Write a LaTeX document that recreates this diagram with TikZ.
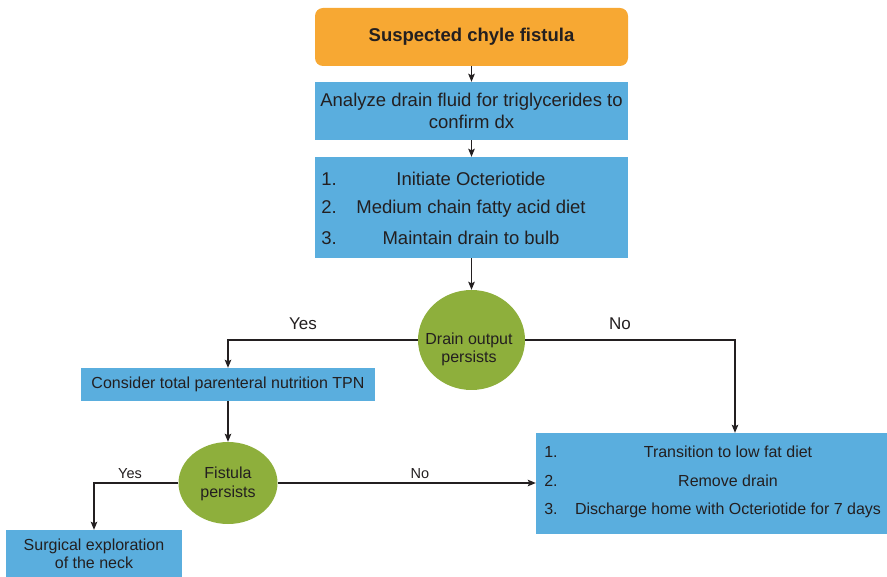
\documentclass[tikz,border=0pt]{standalone}
\usepackage{fontspec}
\setmainfont{Liberation Sans}
\usetikzlibrary{arrows.meta,shapes.geometric}
\definecolor{orangebox}{HTML}{F7A833}
\definecolor{bluebox}{HTML}{5AAEDE}
\definecolor{greenc}{HTML}{8EAF3C}
\definecolor{txt}{HTML}{231F20}
\begin{document}
\begin{tikzpicture}[x=1pt,y=-1pt,
  every node/.style={text=txt},
  obox/.style={fill=orangebox, rounded corners=8pt, inner sep=0pt, font=\fontsize{18.5}{22}\selectfont\bfseries},
  bbox/.style={fill=bluebox, inner sep=0pt},
  gcirc/.style={ellipse, fill=greenc, inner sep=0pt, align=center, font=\fontsize{16}{19}\selectfont},
  big/.style={inner sep=0pt, text height=13.2pt, text depth=0pt, font=\fontsize{18.5}{22}\selectfont},
  mid/.style={inner sep=0pt, text height=11.5pt, text depth=0pt, font=\fontsize{16}{19}\selectfont},
  lblbig/.style={inner sep=0pt, text height=12.2pt, text depth=0pt, font=\fontsize{17}{20}\selectfont},
  lblsm/.style={inner sep=0pt, text height=10.4pt, text depth=0pt, font=\fontsize{14.5}{17}\selectfont},
  arr/.style={draw=txt, line width=1.2pt, -{Stealth[length=8pt,width=6.5pt,inset=1.5pt]}}
]
\useasboundingbox (0,0) rectangle (887,577);

% boxes
\node[obox, minimum width=313pt, minimum height=58pt] (top) at (471.5,37) {Suspected chyle fistula};
\node[bbox, minimum width=313pt, minimum height=58pt, align=center, font=\fontsize{18.5}{22}\selectfont] (b2) at (471.5,111) {Analyze drain fluid for triglycerides to\\confirm dx};
\node[bbox, minimum width=313pt, minimum height=101pt] (b3) at (471.5,207.5) {};
\node[gcirc, minimum width=107pt, minimum height=100pt] (c1) at (471.5,340) {};
\node[bbox, minimum width=294pt, minimum height=33pt] (tpn) at (228,384.5) {};
\node[gcirc, minimum width=99pt, minimum height=82pt] (c2) at (228,483) {};
\node[bbox, minimum width=176pt, minimum height=47pt] (surg) at (94,553.5) {};
\node[bbox, minimum width=351pt, minimum height=101pt] (rbox) at (711.5,483.5) {};

% texts in box 3
\node[big] (n31) at (329,179) {1.};
\node[big] (t31) at (471,179) {Initiate Octeriotide};
\node[big] (n32) at (329,207) {2.};
\node[big] (t32) at (471,207) {Medium chain fatty acid diet};
\node[big] (n33) at (329,238) {3.};
\node[big] (t33) at (471,238) {Maintain drain to bulb};

% circle texts
\node[mid] (c1a) at (469,339) {Drain output};
\node[mid] (c1b) at (469,357) {persists};
\node[mid] (c2a) at (228,473) {Fistula};
\node[mid] (c2b) at (228,492) {persists};

% TPN and surgical texts
\node[mid] (tpnt) at (228,383) {Consider total parenteral nutrition TPN};
\node[mid] (s1) at (94,545) {Surgical exploration};
\node[mid] (s2) at (94,563) {of the neck};

% right box texts
\node[mid] (n41) at (551,452) {1.};
\node[mid] (t41) at (728,452) {Transition to low fat diet};
\node[mid] (n42) at (551,481) {2.};
\node[mid] (t42) at (728,481) {Remove drain};
\node[mid] (n43) at (551,509) {3.};
\node[mid] (t43) at (728,509) {Discharge home with Octeriotide for 7 days};

% connectors
\draw[arr] (top.south) -- (b2.north);
\draw[arr] (b2.south) -- (b3.north);
\draw[arr] (b3.south) -- (c1.north);
\draw[arr] (c1.west) -| (tpn.north);
\draw[arr] (c1.east) -| ([xshift=23.5pt]rbox.north);
\draw[arr] (tpn.south) -- (c2.north);
\draw[arr] (c2.west) -| (surg.north);
\draw[arr] (c2.east) -- (c2.east -| rbox.west);

% labels
\node[lblbig] (yes1) at (303,323) {Yes};
\node[lblbig] (no1) at (620,323) {No};
\node[lblsm] (yes2) at (130,473) {Yes};
\node[lblsm] (no2) at (420,473) {No};
\end{tikzpicture}
\end{document}
